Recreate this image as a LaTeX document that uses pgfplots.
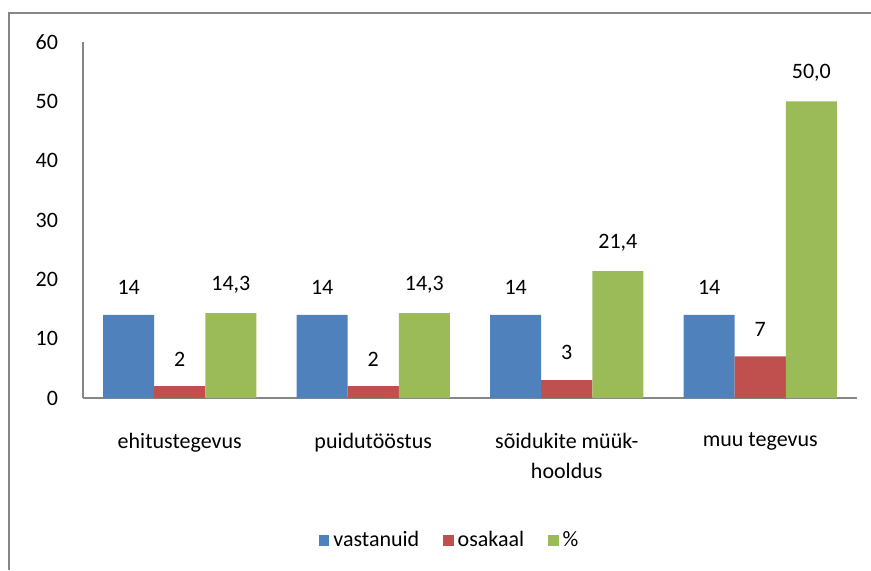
\documentclass[border=0pt]{standalone}
\usepackage{fontspec}
\setmainfont{Carlito}
\usepackage{pgfplots}
\pgfplotsset{compat=1.18}
\definecolor{cblue}{HTML}{4F81BD}
\definecolor{cred}{HTML}{C0504D}
\definecolor{cgreen}{HTML}{9BBB59}
\definecolor{axgray}{HTML}{868686}
\newcommand{\cf}{\fontsize{11}{13.2}\selectfont}

\begin{document}
\begin{tikzpicture}
\useasboundingbox (0,0) rectangle (435.5pt,285pt);
\draw[axgray, line width=0.7pt] (4.5pt,0) -- (4.5pt,278.5pt) -- (435.5pt,278.5pt);
\begin{axis}[
  at={(41.5pt,86pt)}, anchor=south west,
  scale only axis, width=387pt, height=178pt,
  ybar=0pt, bar width=0.264,
  xmin=-0.5, xmax=3.5, ymin=0, ymax=60,
  ytick={0,10,...,60}, xtick={0,1,2,3},
  xticklabels={ehitustegevus, puidutööstus, {sõidukite müük-\\[2pt]hooldus}, muu tegevus},
  major tick length=0pt,
  axis x line*=bottom, axis y line*=left,
  axis line style={axgray, line width=0.7pt},
  every outer x axis line/.append style={-}, every outer y axis line/.append style={-},
  /pgf/number format/assume math mode=true,
  tick label style={font=\cf, black},
  yticklabel style={xshift=-9pt},
  xticklabel style={yshift=-14pt, align=center},
  nodes near coords, every node near coord/.append style={font=\cf, black, yshift=6.5pt},
  legend style={at={(0.475,-0.40)}, anchor=center, draw=none, legend columns=3, font=\cf,
    /tikz/every even column/.append style={column sep=10pt}},
  legend image code/.code={\fill[#1] (0pt,-2.6pt) rectangle (5.2pt,2.6pt);},
]
\addplot[draw=none, fill=cblue, bar shift=-0.264] coordinates {(0,14) (1,14) (2,14) (3,14)};
\addplot[draw=none, fill=cred, bar shift=0] coordinates {(0,2) (1,2) (2,3) (3,7)};
\addplot[draw=none, fill=cgreen, bar shift=0.264,
  nodes near coords={\pgfmathprintnumber[fixed, fixed zerofill, precision=1, use comma]{\pgfplotspointmeta}}]
  coordinates {(0,14.3) (1,14.3) (2,21.4) (3,50.0)};
\legend{vastanuid, osakaal, \%}
\end{axis}
\end{tikzpicture}
\end{document}
